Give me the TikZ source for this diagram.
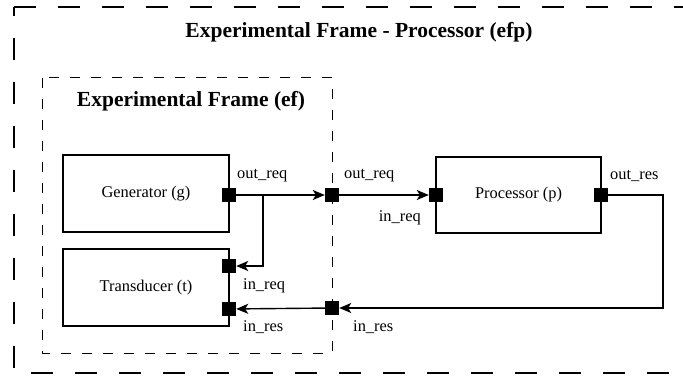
\documentclass[tikz,border=0pt]{standalone}
\usepackage{fontspec}
\setmainfont{Liberation Serif}
\usetikzlibrary{arrows.meta}
\tikzset{
	box/.style={draw, line width=1.3pt, minimum width=166pt, minimum height=77pt, inner sep=0pt, font=\fontsize{16.4}{18}\selectfont},
	port/.style={fill=black, minimum size=14pt, inner sep=0pt},
	link/.style={line width=1.4pt, -{Stealth[length=12pt,width=10pt,inset=3pt]}},
	plabel/.style={inner sep=0pt, font=\fontsize{16.4}{18}\selectfont},
	ttl/.style={inner sep=0pt, font=\fontsize{21.5}{24}\selectfont\bfseries}
}

\begin{document}
\begin{tikzpicture}[x=1pt, y=-1pt]
			%%%%% START %%%%%
			
			\clip (0, 0) rectangle (683, 377);
			
			% outer frame (efp)
			\draw[line width=2.7pt, dash pattern=on 22pt off 22pt] (14, 7) -- (720, 7);
			\draw[line width=2.7pt, dash pattern=on 22pt off 22pt, dash phase=13pt] (14, 7) -- (14, 373) -- (720, 373);
			\node[ttl] (efp) at (359, 32) {Experimental Frame - Processor (efp)};
			
			% inner frame (ef)
			\draw[line width=1pt, dash pattern=on 10pt off 11pt] (42, 78) rectangle (332, 353);
			\node[ttl] (ef) at (191, 101) {Experimental Frame (ef)};
			
			\node[box] (gen) at (146, 193.5) {Generator (g)};
			\node[box] (trans) at (146, 287.5) {Transducer (t)};
			\node[box, minimum width=165pt, minimum height=76pt] (proc) at (518.5, 195) {Processor (p)};
			
			\node[port] (genout) at (229, 195) {};
			\node[port] (transreq) at (229, 266) {};
			\node[port] (transres) at (229, 309) {};
			\node[port] (efout) at (332, 195) {};
			\node[port] (efin) at (332, 308) {};
			\node[port] (procin) at (436, 195) {};
			\node[port] (procout) at (601, 195) {};
			
			\node[plabel, anchor=west] (l1) at (237, 176) {out\_req};
			\node[plabel, anchor=west] (l2) at (344, 176) {out\_req};
			\node[plabel, anchor=east] (l3) at (421, 218) {in\_req};
			\node[plabel, anchor=west] (l4) at (610, 176) {out\_res};
			\node[plabel, anchor=west] (l5) at (243, 286) {in\_req};
			\node[plabel, anchor=west] (l6) at (243, 327) {in\_res};
			\node[plabel, anchor=west] (l7) at (353, 327) {in\_res};
			
			\coordinate (branch) at (263, 195);
			\coordinate (turn) at (663, 308);
			
			\draw[link] (genout) -- (efout);
			\draw[link] (efout) -- (procin);
			\draw[link] (branch) |- (transreq);
			\draw[link] (procout) -| (turn) -- (efin);
			\draw[link] (efin) -- (transres);
			
			%%%%% END %%%%%
\end{tikzpicture}
\end{document}
